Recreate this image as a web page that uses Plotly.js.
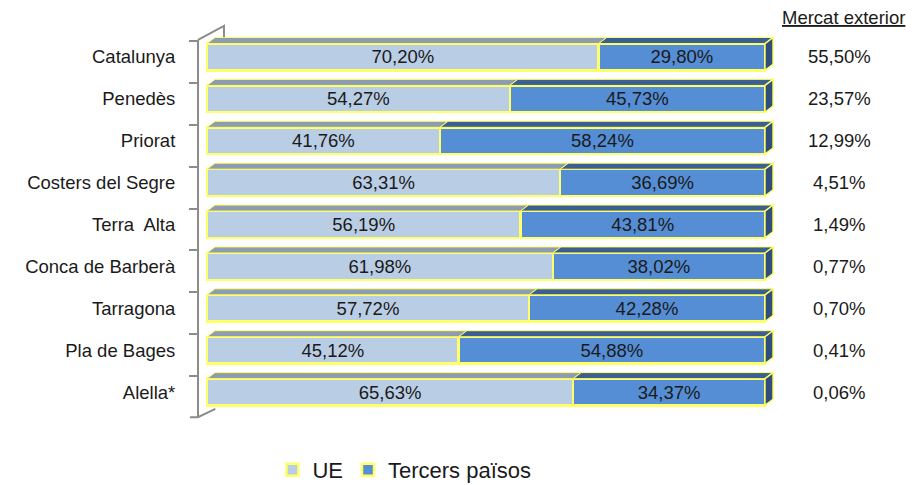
<!DOCTYPE html>
<html>
<head>
<meta charset="utf-8">
<script src="https://cdn.plot.ly/plotly-3.0.1.min.js"></script>
<style>html,body{margin:0;padding:0;background:#fff;}#chart{width:912px;height:485px;}</style>
</head>
<body>
<div id="chart"></div>
<script>
// ---- data ----
const categories = ['Catalunya', 'Penedès', 'Priorat', 'Costers del Segre', 'Terra\u00a0 Alta', 'Conca de Barberà', 'Tarragona', 'Pla de Bages', 'Alella*'];
const ueValues = [70.20, 54.27, 41.76, 63.31, 56.19, 61.98, 57.72, 45.12, 65.63];
const tercersValues = [29.80, 45.73, 58.24, 36.69, 43.81, 38.02, 42.28, 54.88, 34.37];
const mercatExterior = [55.50, 23.57, 12.99, 4.51, 1.49, 0.77, 0.70, 0.41, 0.06];
const seriesNames = ['UE', 'Tercers països'];
const columnTitle = 'Mercat exterior';

// ---- styling ----
const FONT = 'Liberation Sans, Arial, sans-serif';
const cUE = '#b9cde5', cTP = '#558ed5';
const cUETop = '#8e9cb2', cTPTop = '#3b5f93', cSide = '#2f4e7e';
const yellow = '#ffff66';
const axisGray = '#8c8c8c';
const barW = 0.64;
const dx = 1.45, dy = 0.145; // 3D depth in data units

const fmt = v => v.toFixed(2).replace('.', ',') + '%';
const idx = categories.map((c, i) => i);

const traces = [
  {
    type: 'bar', orientation: 'h', name: seriesNames[0],
    y: idx, x: ueValues, width: barW,
    marker: {color: cUE, line: {color: yellow, width: 2.5}},
    text: ueValues.map(fmt), textposition: 'inside', insidetextanchor: 'middle',
    constraintext: 'none',
    insidetextfont: {family: FONT, size: 18.5, color: '#1a1a1a'},
    hoverinfo: 'skip'
  },
  {
    type: 'bar', orientation: 'h', name: seriesNames[1],
    y: idx, x: tercersValues, width: barW,
    marker: {color: cTP, line: {color: yellow, width: 2.5}},
    text: tercersValues.map(fmt), textposition: 'inside', insidetextanchor: 'middle',
    constraintext: 'none',
    insidetextfont: {family: FONT, size: 18.5, color: '#1a1a1a'},
    hoverinfo: 'skip'
  }
];

// 3D faces built from the data
const shapes = [];
const poly = pts => 'M' + pts.map(p => p[0] + ',' + p[1]).join('L') + 'Z';
idx.forEach(i => {
  const t = i - barW / 2, b = i + barW / 2;
  const u = ueValues[i], total = ueValues[i] + tercersValues[i];
  shapes.push({type: 'path', xref: 'x', yref: 'y', layer: 'above',
    path: poly([[0, t], [dx, t - dy], [u + dx, t - dy], [u, t]]),
    fillcolor: cUETop, line: {color: yellow, width: 1}});
  shapes.push({type: 'path', xref: 'x', yref: 'y', layer: 'above',
    path: poly([[u, t], [u + dx, t - dy], [total + dx, t - dy], [total, t]]),
    fillcolor: cTPTop, line: {color: yellow, width: 1}});
  shapes.push({type: 'path', xref: 'x', yref: 'y', layer: 'above',
    path: poly([[total, t], [total + dx, t - dy], [total + dx, b - dy], [total, b]]),
    fillcolor: cSide, line: {color: yellow, width: 1.5}});
});
// wall edges (decoration)
shapes.push({type: 'path', xref: 'paper', yref: 'paper', layer: 'above',
  path: 'M0,0.99L0.045,1.027L0.045,0.997', line: {color: axisGray, width: 2}});
shapes.push({type: 'path', xref: 'paper', yref: 'paper', layer: 'above',
  path: 'M-0.014,-0.011L0,-0.011L0.03,0.011', line: {color: axisGray, width: 2}});
shapes.push({type: 'line', xref: 'paper', yref: 'paper', layer: 'above',
  x0: 0, x1: 0, y0: -0.011, y1: 0.99, line: {color: axisGray, width: 2}});

const annotations = [{
  xref: 'paper', yref: 'paper', x: 1.118, y: 1.05, xanchor: 'center', yanchor: 'middle',
  text: '<span style="text-decoration:underline">' + columnTitle + '</span>',
  showarrow: false, font: {family: FONT, size: 18.5, color: '#1a1a1a'}
}];
idx.forEach(i => annotations.push({
  xref: 'paper', yref: 'y', x: 1.111, y: i, xanchor: 'center', yanchor: 'middle',
  text: fmt(mercatExterior[i]), showarrow: false,
  font: {family: FONT, size: 18.5, color: '#1a1a1a'}
}));

const yRange = [8.5, -0.5];
const layout = {
  width: 912, height: 485,
  margin: {l: 198, r: 137, t: 36, b: 72, pad: 0, autoexpand: false},
  paper_bgcolor: '#fff', plot_bgcolor: 'rgba(0,0,0,0)',
  barmode: 'stack',
  font: {family: FONT, size: 18.5, color: '#1a1a1a'},
  showlegend: true,
  legend: {orientation: 'h', x: 0.129, xanchor: 'left', y: -0.151, yanchor: 'middle',
    font: {family: FONT, size: 22, color: '#1a1a1a'}, itemwidth: 30, traceorder: 'normal'},
  xaxis: {range: [-1.6, 101.8], visible: false, showgrid: false, zeroline: false, fixedrange: true},
  // tick marks at category boundaries on the wall
  yaxis: {
    range: yRange, tickmode: 'array', tickvals: idx.map(i => i - 0.38),
    showticklabels: false, ticks: 'outside', ticklen: 8, tickwidth: 2, tickcolor: axisGray,
    showline: false, showgrid: false, zeroline: false, fixedrange: true
  },
  // category labels
  yaxis2: {
    overlaying: 'y', side: 'left', range: yRange, tickmode: 'array', tickvals: idx, ticktext: categories,
    ticks: 'outside', ticklen: 8, tickcolor: 'rgba(0,0,0,0)', ticklabelstandoff: 10,
    showline: false, showgrid: false, zeroline: false, fixedrange: true,
    tickfont: {family: FONT, size: 18.5, color: '#1a1a1a'}
  },
  shapes: shapes,
  annotations: annotations,
  hovermode: false
};

// invisible helper trace so the label axis is drawn
traces.push({type: 'scatter', x: [], y: [], yaxis: 'y2', showlegend: false, hoverinfo: 'skip'});

Plotly.newPlot('chart', traces, layout, {displayModeBar: false, staticPlot: true});
</script>
</body>
</html>
